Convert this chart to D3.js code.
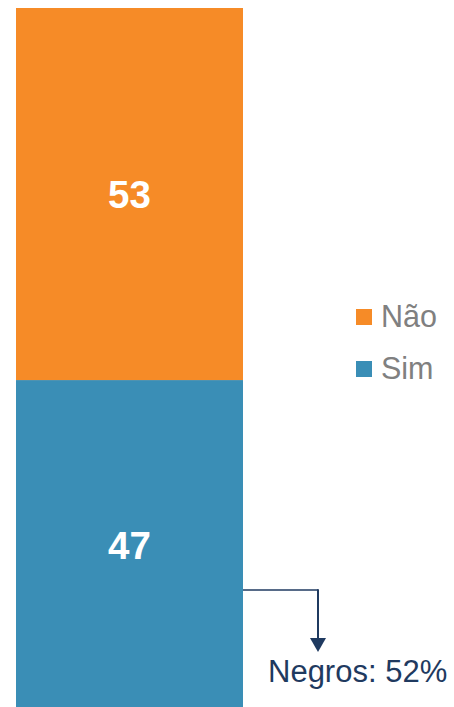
<!DOCTYPE html>
<html>
<head>
<meta charset="utf-8">
<script src="https://cdn.jsdelivr.net/npm/d3@7.9.0/dist/d3.min.js"></script>
<style>
  html, body { margin: 0; padding: 0; background: #fff; }
  svg { display: block; font-family: "Liberation Sans", Arial, sans-serif; }
</style>
</head>
<body>
<svg id="chart" width="454" height="707"></svg>
<script>
// data (stacked from the bottom)
const categories = ['Sim', 'Não'];
const values = [47, 53];
const colors = ['#3a8eb6', '#f68b27'];
const legendOrder = ['Não', 'Sim'];
const note = 'Negros: 52%';

const svg = d3.select('#chart');
const navy = '#1f3a60';

const x = d3.scaleBand().domain(['total']).range([16, 243]).padding(0);
const y = d3.scaleLinear().domain([0, d3.sum(values)]).range([710, 8]);

let acc = 0;
const stacked = categories.map((c, i) => {
  const d = { cat: c, value: values[i], y0: acc, y1: acc + values[i], color: colors[i] };
  acc += values[i];
  return d;
});

svg.selectAll('rect.seg')
  .data(stacked)
  .enter()
  .append('rect')
  .attr('class', 'seg')
  .attr('x', x('total'))
  .attr('width', x.bandwidth())
  .attr('y', d => y(d.y1))
  .attr('height', d => y(d.y0) - y(d.y1))
  .attr('fill', d => d.color);

svg.selectAll('text.val')
  .data(stacked)
  .enter()
  .append('text')
  .attr('class', 'val')
  .attr('x', x('total') + x.bandwidth() / 2)
  .attr('y', d => (y(d.y0) + y(d.y1)) / 2 + 14)
  .attr('text-anchor', 'middle')
  .attr('fill', '#fff')
  .attr('font-weight', 'bold')
  .attr('font-size', 38.5)
  .text(d => d.value);

// legend
const legend = svg.selectAll('g.leg')
  .data(legendOrder)
  .enter()
  .append('g')
  .attr('class', 'leg')
  .attr('transform', (d, i) => `translate(356, ${309 + i * 52})`);

legend.append('rect')
  .attr('width', 16)
  .attr('height', 16)
  .attr('fill', d => colors[categories.indexOf(d)]);

legend.append('text')
  .attr('x', 25)
  .attr('y', 18)
  .attr('font-size', 30.5)
  .attr('fill', '#808080')
  .text(d => d);

// annotation arrow from the Sim segment
const ay = y(17.1);
const ax0 = x('total') + x.bandwidth();
const ax1 = 318;
svg.append('path')
  .attr('d', `M${ax0},${ay}H${ax1}`)
  .attr('stroke', navy)
  .attr('stroke-width', 1.5)
  .attr('fill', 'none');
svg.append('path')
  .attr('d', `M${ax1},${ay - 0.75}V639`)
  .attr('stroke', navy)
  .attr('stroke-width', 2)
  .attr('fill', 'none');
svg.append('path')
  .attr('d', `M${ax1 - 8},638L${ax1 + 8},638L${ax1},652Z`)
  .attr('fill', navy);

svg.append('text')
  .attr('x', 268)
  .attr('y', 682)
  .attr('font-size', 31)
  .attr('fill', navy)
  .text(note);
</script>
</body>
</html>
